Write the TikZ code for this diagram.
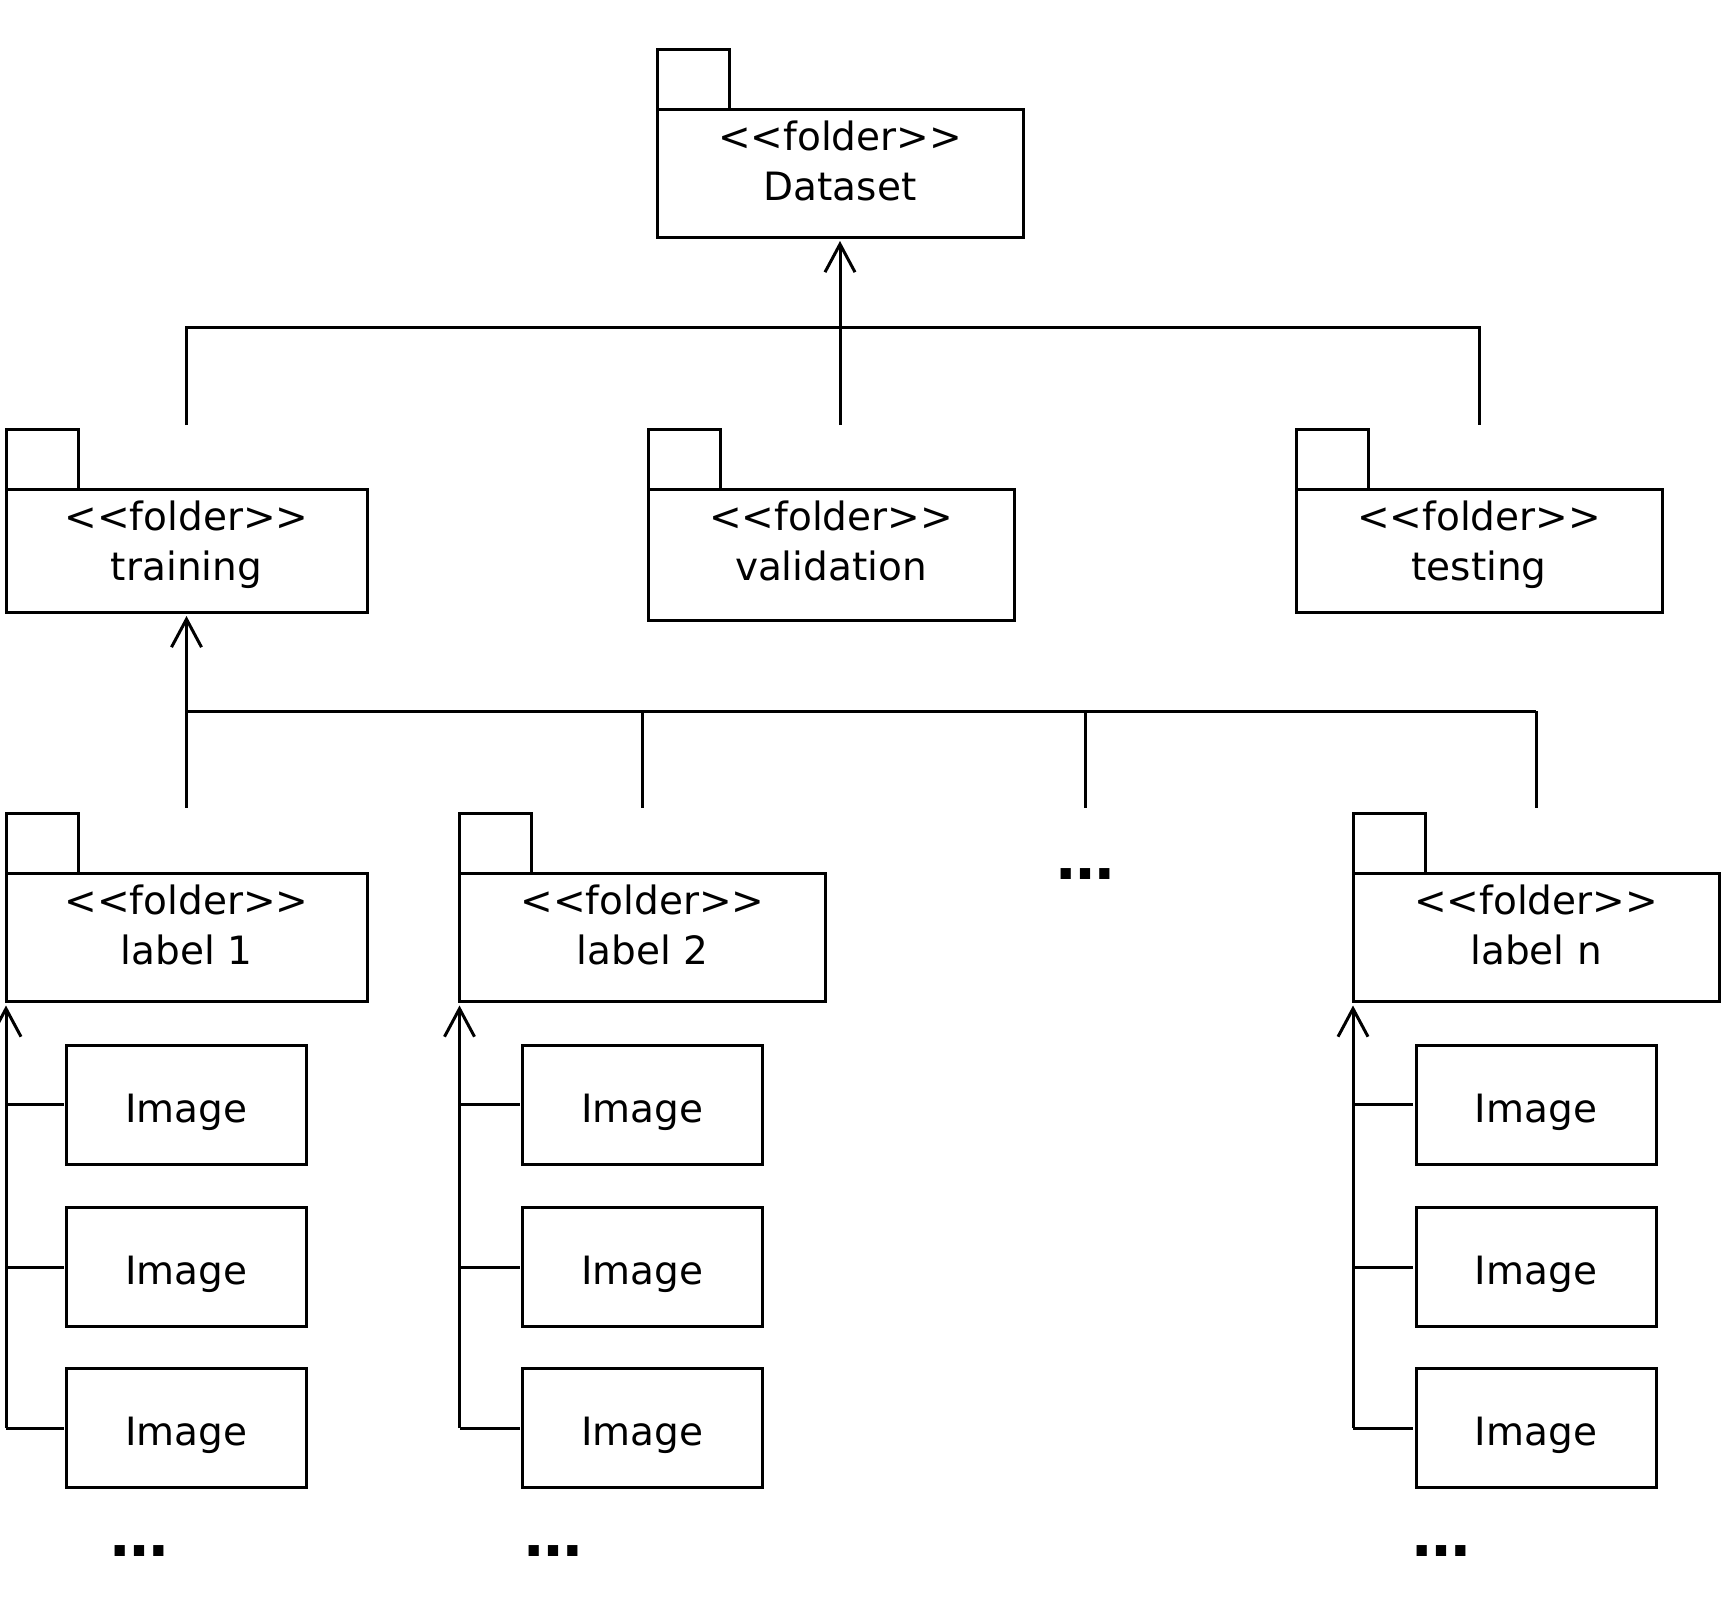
\documentclass[tikz,border=0pt]{standalone}
\usepackage{fontspec}
\newfontfamily\umlfont{DejaVu Sans}
\usetikzlibrary{arrows.meta}
\newcommand{\boxtext}{\umlfont\fontsize{39}{50}\selectfont}
\newcommand{\moretext}{\umlfont\bfseries\fontsize{58}{58}\selectfont}

\begin{document}
\begin{tikzpicture}[x=1pt,y=-1pt,line width=3pt,
    >={Straight Barb[length=28pt,width=30pt]},
    folder/.style={draw,minimum width=366pt,minimum height=128pt,inner sep=0pt,outer sep=0pt},
    ftitle/.style={anchor=north,inner sep=0pt,yshift=-10pt,align=center,font=\boxtext},
    image/.style={draw,minimum width=240pt,minimum height=119pt,inner sep=0pt,outer sep=0pt,text height=35pt,text depth=0pt,font=\boxtext},
    more/.style={anchor=base,inner sep=0pt,font=\moretext},
    uplink/.style={->,shorten >=4pt},
    branch/.style={shorten >=3pt}]
    \useasboundingbox (0,0) rectangle (1734,1620);

    \node[folder,label={[ftitle]north:{<<folder>>\\Dataset}}] (ds) at (840,173) {};
    \node[folder,minimum width=361pt,minimum height=123pt,label={[ftitle]north:{<<folder>>\\training}}] (train) at (186.5,550.5) {};
    \node[folder,minimum height=131pt,label={[ftitle]north:{<<folder>>\\validation}}] (val) at (831,554.5) {};
    \node[folder,minimum height=123pt,label={[ftitle]north:{<<folder>>\\testing}}] (test) at (1479,550.5) {};
    \node[folder,minimum width=361pt,label={[ftitle]north:{<<folder>>\\label 1}}] (lab1) at (186.5,937.5) {};
    \node[folder,label={[ftitle]north:{<<folder>>\\label 2}}] (lab2) at (642.5,937.5) {};
    \node[more] (gap) at (1085,879) {…};
    \node[folder,label={[ftitle]north:{<<folder>>\\label n}}] (labn) at (1536,937.5) {};
    \foreach \f in {ds,train,val,test,lab1,lab2,labn}
        \draw (\f.north west) rectangle ++(72,-60);

    \foreach \l/\x in {1/186.5,2/642.5,n/1536}
        \foreach \r/\y in {1/1104.5,2/1267,3/1428}
            \node[image] (img\l\r) at (\x,\y) {Image};
    \node[more] (more1) at (139,1556) {…};
    \node[more] (more2) at (553,1556) {…};
    \node[more] (moren) at (1441,1556) {…};

    \coordinate (bus1) at (0,327);
    \coordinate (top1) at (0,425);
    \coordinate (bus2) at (0,711);
    \coordinate (top2) at (0,808);

    \draw (train |- top1) -- (train |- bus1) -- (test |- bus1) -- (test |- top1);
    \draw[uplink] (ds |- top1) -- (ds);
    \draw (lab1 |- bus2) -- (labn |- bus2);
    \foreach \l in {lab1,lab2,gap,labn}
        \draw (\l |- bus2) -- (\l |- top2);
    \draw[uplink] (train |- bus2) -- (train);

    \foreach \l in {1,2,n} {
        \draw[uplink] (lab\l.south west |- img\l3) -- (lab\l.south west);
        \foreach \r in {1,2,3}
            \draw[branch] (lab\l.south west |- img\l\r) -- (img\l\r);
    }
\end{tikzpicture}
\end{document}
